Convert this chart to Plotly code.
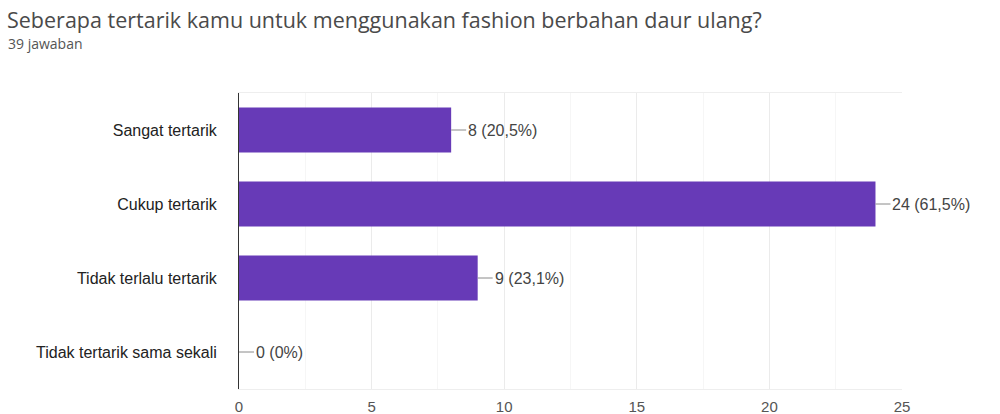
import plotly.graph_objects as go

categories = ["Sangat tertarik", "Cukup tertarik", "Tidak terlalu tertarik", "Tidak tertarik sama sekali"]
counts = [8, 24, 9, 0]
percent_labels = ["20,5%", "61,5%", "23,1%", "0%"]
x_ticks = [0, 5, 10, 15, 20, 25]

title_text = "Seberapa tertarik kamu untuk menggunakan fashion berbahan daur ulang?"
subtitle_text = "39 jawaban"

W, H = 1000, 414
pl, pr, pt, pb = 239, 98, 93, 25
pw, ph = W - pl - pr, H - pt - pb

fig = go.Figure()
fig.add_trace(go.Bar(
    y=categories, x=counts, orientation="h",
    marker=dict(color="#673ab7", line=dict(width=0)),
    hoverinfo="skip",
))

for c, v, p in zip(categories, counts, percent_labels):
    fig.add_annotation(
        x=v, y=c, xref="x", yref="y",
        text=f"{v} ({p})", showarrow=True, arrowhead=0, arrowwidth=1,
        arrowcolor="#8a8a8a", ax=15, ay=0, standoff=0, startstandoff=0,
        xanchor="left", yanchor="middle",
        font=dict(family="Liberation Sans", size=16, color="#444444"),
    )

fig.add_annotation(
    x=(5 - pl) / pw, y=1 - (20 - pt) / ph, xref="paper", yref="paper",
    text=title_text, showarrow=False, xanchor="left", yanchor="middle",
    font=dict(family="Open Sans", size=21.5, color="#4a4a4a"),
)
fig.add_annotation(
    x=(6 - pl) / pw, y=1 - (44 - pt) / ph, xref="paper", yref="paper",
    text=subtitle_text, showarrow=False, xanchor="left", yanchor="middle",
    font=dict(family="Open Sans", size=14, color="#555555"),
)

fig.update_layout(
    width=W, height=H,
    margin=dict(l=pl, r=pr, t=pt, b=pb, autoexpand=False),
    paper_bgcolor="white", plot_bgcolor="white",
    showlegend=False, bargap=0.39,
    xaxis=dict(
        range=[0, 25], tickvals=x_ticks, ticktext=[str(t) for t in x_ticks],
        showgrid=True, gridcolor="#ebebeb", gridwidth=1,
        minor=dict(dtick=2.5, showgrid=True, gridcolor="#f6f6f6"),
        zeroline=False, showline=True, linecolor="#eeeeee", mirror=True,
        ticks="", tickfont=dict(family="Liberation Sans", size=15, color="#555555"),
        ticklabelstandoff=4, fixedrange=True, automargin=False,
    ),
    yaxis=dict(
        autorange="reversed", showgrid=False, zeroline=False,
        showline=True, linecolor="#333333", linewidth=1,
        ticks="", ticklabelstandoff=18, automargin=False,
        tickfont=dict(family="Liberation Sans", size=16, color="#222222"),
        fixedrange=True,
    ),
)

fig.write_html("out.html")
